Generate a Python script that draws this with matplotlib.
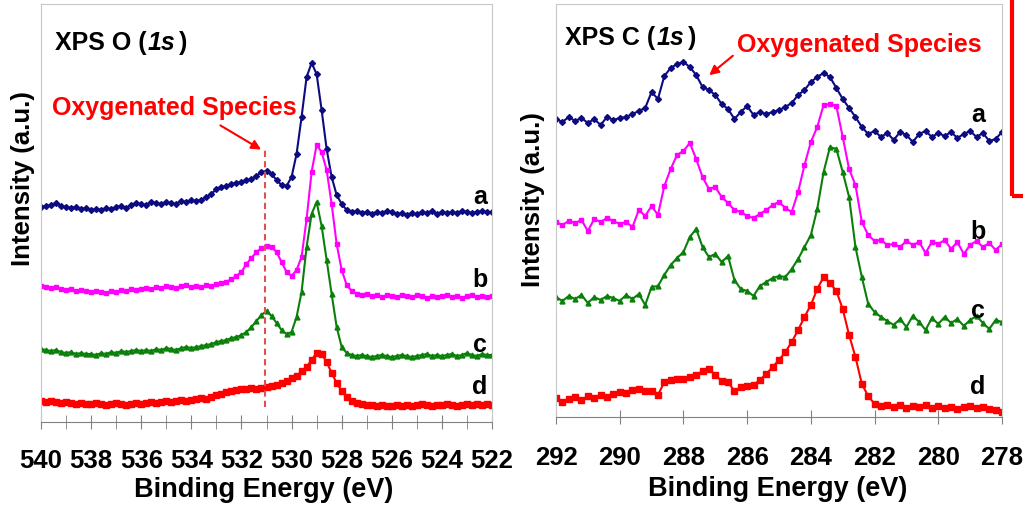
import numpy as np
import matplotlib
matplotlib.use('Agg')
import matplotlib.pyplot as plt
from matplotlib.patches import Rectangle
from matplotlib.transforms import IdentityTransform

plt.rcParams['font.family'] = ['Liberation Sans', 'DejaVu Sans']
plt.rcParams['font.weight'] = 'bold'

W, H = 1023, 506

#################### O 1s : 540 -> 522 eV, 0.2 eV steps ####################
o1s_a = [215, 216, 217, 219, 216, 215, 214, 215, 213, 214,
         212, 213, 212, 214, 213, 215, 216, 214, 217, 219,
         218, 217, 220, 219, 218, 220, 219, 218, 221, 220,
         222, 221, 222, 225, 228, 233, 235, 236, 238, 239,
         240, 242, 243, 246, 250, 251, 248, 242, 237, 236,
         245, 268, 305, 345, 359, 348, 312, 273, 245, 227,
         218, 212, 210, 211, 209, 210, 208, 210, 209, 211,
         210, 208, 209, 207, 209, 208, 210, 209, 211, 208,
         210, 209, 210, 209, 211, 210, 209, 210, 211, 210,
         210]
o1s_b = [136, 135, 134, 135, 133, 132, 133, 131, 132, 131,
         130, 131, 130, 129, 131, 130, 132, 131, 133, 132,
         133, 134, 133, 135, 134, 136, 135, 134, 136, 137,
         135, 136, 135, 137, 136, 138, 139, 140, 143, 146,
         150, 158, 164, 170, 174, 176, 175, 170, 160, 150,
         146, 152, 165, 203, 250, 277, 270, 252, 218, 178,
         152, 137, 131, 128, 127, 128, 126, 127, 125, 127,
         126, 125, 127, 126, 125, 127, 126, 124, 126, 125,
         126, 127, 125, 126, 124, 126, 127, 125, 126, 125,
         126]
o1s_c = [73, 72, 71, 72, 70, 69, 70, 68, 69, 68,
         68, 67, 69, 68, 70, 69, 71, 70, 71, 72,
         71, 72, 71, 73, 72, 74, 73, 72, 74, 75,
         74, 75, 76, 77, 78, 80, 81, 82, 84, 85,
         87, 90, 95, 101, 107, 111, 106, 99, 92, 88,
         90, 105, 130, 175, 208, 220, 196, 162, 128, 95,
         75, 69, 67, 66, 67, 66, 65, 66, 67, 66,
         65, 66, 67, 66, 65, 66, 67, 68, 66, 67,
         66, 67, 68, 66, 67, 69, 67, 66, 68, 67,
         67]
o1s_d = [21, 20, 21, 20, 19, 20, 19, 18, 19, 18,
         18, 19, 18, 17, 18, 19, 18, 17, 18, 19,
         18, 19, 20, 19, 20, 21, 20, 21, 22, 21,
         22, 23, 24, 23, 25, 27, 28, 30, 31, 32,
         33, 33, 34, 33, 34, 35, 36, 37, 39, 41,
         44, 46, 51, 55, 62, 69, 68, 60, 49, 39,
         31, 25, 21, 19, 18, 17, 17, 16, 17, 16,
         16, 17, 16, 17, 16, 17, 18, 17, 16, 17,
         17, 18, 17, 16, 17, 18, 17, 18, 17, 18,
         17]

#################### C 1s : 292 -> 278 eV, 0.2 eV steps ####################
c1s_a = [298, 295, 300, 296, 299, 294, 298, 292, 300, 297,
         299, 300, 303, 306, 309, 325, 318, 341, 349, 353,
         355, 350, 342, 330, 327, 322, 313, 308, 298, 305,
         311, 302, 305, 303, 305, 307, 310, 314, 322, 327,
         335, 340, 344, 340, 329, 318, 309, 300, 290, 283,
         286, 280, 284, 277, 285, 282, 275, 283, 286, 280,
         284, 281, 285, 279, 283, 286, 280, 284, 276, 278,
         285]
c1s_b = [195, 192, 196, 194, 197, 186, 198, 195, 199, 196,
         193, 195, 190, 207, 201, 211, 202, 231, 248, 262,
         266, 274, 258, 240, 228, 230, 220, 214, 207, 205,
         201, 199, 203, 207, 212, 215, 209, 205, 225, 252,
         275, 290, 312, 313, 311, 280, 248, 232, 195, 182,
         176, 177, 172, 173, 170, 176, 172, 175, 164, 175,
         173, 177, 168, 175, 163, 172, 176, 170, 174, 167,
         173]
c1s_c = [120, 116, 121, 118, 122, 114, 120, 117, 121, 119,
         116, 122, 118, 123, 112, 130, 131, 142, 152, 159,
         165, 180, 188, 170, 160, 163, 155, 161, 137, 128,
         126, 121, 131, 135, 139, 141, 140, 148, 158, 170,
         182, 208, 245, 270, 268, 245, 220, 170, 140, 113,
         105, 100, 96, 92, 98, 90, 101, 95, 87, 99,
         93, 100, 94, 98, 91, 97, 101, 94, 88, 97,
         95]
c1s_d = [19, 15, 18, 20, 17, 21, 19, 22, 20, 23,
         25, 24, 27, 28, 26, 26, 22, 35, 37, 38,
         38, 40, 42, 46, 48, 42, 36, 35, 26, 30,
         31, 32, 37, 43, 50, 57, 65, 75, 87, 100,
         112, 128, 140, 134, 126, 108, 82, 60, 33, 21,
         13, 11, 12, 10, 12, 9, 11, 10, 12, 9,
         11, 9, 10, 8, 10, 11, 9, 10, 8, 7,
         5]

o1s_energy = np.linspace(540, 522, len(o1s_a))
c1s_energy = np.linspace(292, 278, len(c1s_a))

sample_names = ['a', 'b', 'c', 'd']
styles = [('#0c0c80', 'D', 3.0),
          ('#ff00ff', 's', 3.5),
          ('#0a800a', '^', 3.5),
          ('#ff0000', 's', 4.3)]


def fx(px):
    return px / W


def fy(py):
    return 1 - py / H


def xps_title(x, y, elem):
    # "XPS O (" + italic "1s" + " )", pieces placed one after another in pixels
    base = H - y
    t1 = fig.text(fx(x), fy(y), 'XPS %s (' % elem, ha='left', va='baseline', fontsize=18)
    fig.canvas.draw()
    x1 = t1.get_window_extent().x1
    t2 = fig.text(x1 + 1, base, '1s', fontsize=18, style='italic', ha='left',
                  va='baseline', transform=IdentityTransform())
    fig.canvas.draw()
    x2 = t2.get_window_extent().x1
    fig.text(x2 + 4, base, ')', fontsize=18, ha='left', va='baseline',
             transform=IdentityTransform())


fig = plt.figure(figsize=(W / 100, H / 100), dpi=100)
ax1 = fig.add_axes([fx(41), fy(423), (492 - 41) / W, (423 - 5) / H])
ax2 = fig.add_axes([fx(556), fy(418), (1002 - 556) / W, (418 - 5) / H])

for ax, en, curves in [(ax1, o1s_energy, [o1s_a, o1s_b, o1s_c, o1s_d]),
                       (ax2, c1s_energy, [c1s_a, c1s_b, c1s_c, c1s_d])]:
    for y, (col, mk, ms) in zip(curves, styles):
        ax.plot(en, y, color=col, marker=mk, ms=ms, lw=1.5, mec=col, mfc=col)
    for s in ['left', 'top', 'right']:
        ax.spines[s].set_color('#c8c8c8')
    ax.spines['bottom'].set_color('#808080')
    ax.set_yticks([])

ax1.set_xlim(540, 522)
ax1.set_ylim(0, 418)
ax1.set_xticks(range(540, 521, -2))
ax1.set_xticks(range(539, 522, -2), minor=True)
ax1.tick_params(axis='x', which='both', direction='inout', length=10,
                color='#808080', labelsize=18.5, pad=13.5)

ax2.set_xlim(292, 278)
ax2.set_ylim(0, 413)
ax2.set_xticks(range(292, 277, -2))
ax2.tick_params(axis='x', which='both', direction='inout', length=10,
                color='#808080', labelsize=18.5, pad=15.5)

# dashed marker for the oxygenated species
ax1.plot([531.05, 531.05], [15, 273], color='#e05050', lw=1.5, ls=(0, (3, 2)))

# axis labels
fig.text(fx(264), fy(490), 'Binding Energy (eV)', ha='center', va='center', fontsize=19.5)
fig.text(fx(778), fy(489), 'Binding Energy (eV)', ha='center', va='center', fontsize=19.5)
fig.text(fx(23), fy(179), 'Intensity (a.u.)', ha='center', va='center', rotation=90, fontsize=18.5)
fig.text(fx(533), fy(200), 'Intensity (a.u.)', ha='center', va='center', rotation=90, fontsize=18.5)

# panel titles
xps_title(55, 50, 'O')
xps_title(565, 45, 'C')

# annotations
fig.text(fx(52), fy(108), 'Oxygenated Species', color='red', ha='left', va='center', fontsize=18)
ax1.annotate('', xy=(531.12, 271), xytext=(fx(218), fy(125)), textcoords='figure fraction',
             arrowprops=dict(arrowstyle='-|>', color='red', lw=1.5, mutation_scale=14))
fig.text(fx(737), fy(45), 'Oxygenated Species', color='red', ha='left', va='center', fontsize=18)
ax2.annotate('', xy=(287.26, 340), xytext=(fx(735), fy(55)), textcoords='figure fraction',
             arrowprops=dict(arrowstyle='-|>', color='red', lw=1.5, mutation_scale=14))

# sample labels
for name, (px, py) in zip(sample_names, [(480, 197), (480, 280), (480, 345), (480, 387)]):
    fig.text(fx(px), fy(py), name, ha='center', va='center', fontsize=18)
for name, (px, py) in zip(sample_names, [(978, 115), (978, 232), (978, 311), (978, 387)]):
    fig.text(fx(px), fy(py), name, ha='center', va='center', fontsize=18)

# red frame cut by the right edge
fig.add_artist(Rectangle((fx(1012), fy(197)), 0.1, 0.6, transform=fig.transFigure,
                         fill=False, edgecolor='red', lw=3, clip_on=False))

fig.savefig('out.png', dpi=100)
